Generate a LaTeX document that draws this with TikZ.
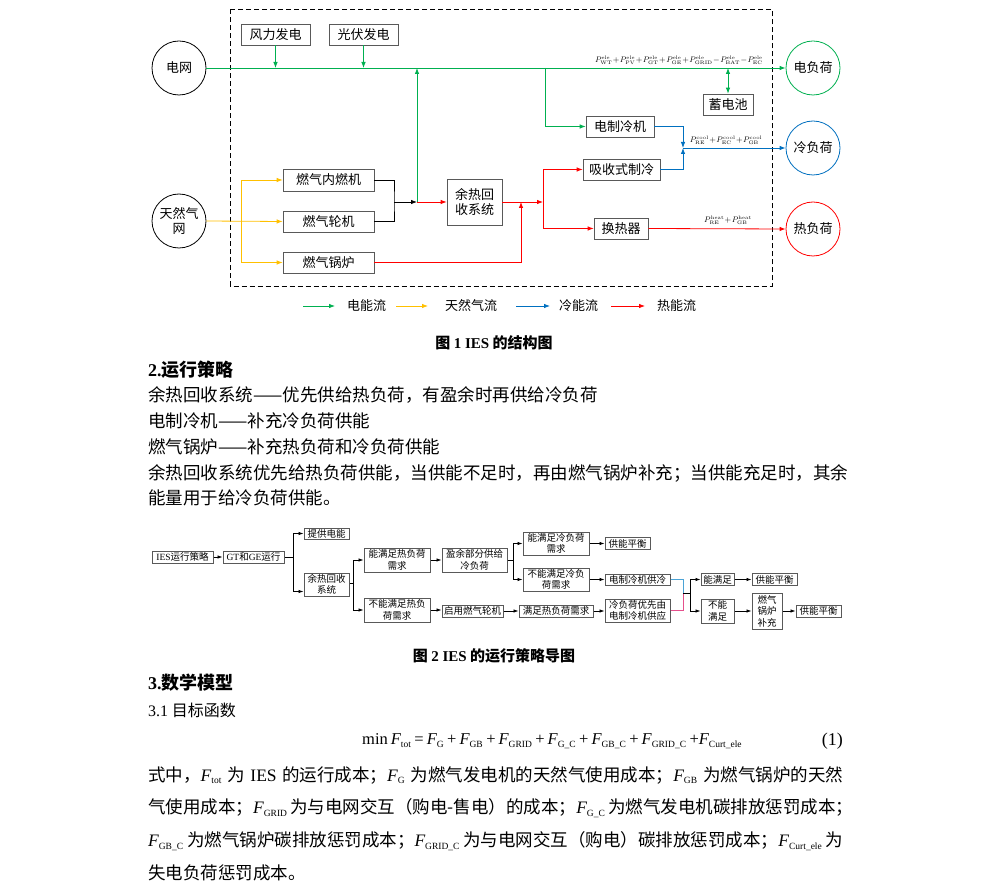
\documentclass[tikz,border=0pt]{standalone}
\usepackage{amsmath}
\usepackage[no-math]{fontspec}
\setmainfont{Noto Sans CJK SC}
\newfontfamily\tnr{Liberation Serif}
\usepackage{tikz}
\usetikzlibrary{positioning,arrows.meta}
\definecolor{elegreen}{HTML}{00B050}
\definecolor{gasyellow}{HTML}{FFC000}
\definecolor{coolblue}{HTML}{0070C0}
\definecolor{heatred}{HTML}{FF0000}
\definecolor{boxgray}{HTML}{595959}
\definecolor{linkblue}{HTML}{4BA3D6}
\definecolor{linkpink}{HTML}{E5508C}
\XeTeXlinebreaklocale "zh"
\XeTeXlinebreakskip=0pt plus 2pt
\newcommand\fdiag{\fontsize{13}{15.5}\selectfont}
\newcommand\fflow{\fontsize{9.5}{11.5}\selectfont}
\newcommand\fbody{\fontsize{17.5}{21}\selectfont}
\newcommand\flab{\fontsize{8.5}{10}\selectfont\medmuskip=1mu}
\newcommand\Pel[1]{P^{\scriptscriptstyle\mathrm{ele}}_{\scriptscriptstyle\mathrm{#1}}}
\newcommand\Pco[1]{P^{\scriptscriptstyle\mathrm{cool}}_{\scriptscriptstyle\mathrm{#1}}}
\newcommand\Pht[1]{P^{\scriptscriptstyle\mathrm{heat}}_{\scriptscriptstyle\mathrm{#1}}}
\newcommand\Ft[1]{{\tnr\itshape F}\textsubscript{\tnr\fontsize{9.5}{9.5}\selectfont #1}}

\begin{document}
\begin{tikzpicture}[x=1pt,y=-1pt,>={Latex[length=6pt,width=4.5pt]},
  blk/.style={draw=boxgray,line width=0.7pt,fill=white,inner sep=0pt,font=\fdiag,align=center},
  ring/.style={circle,draw,line width=0.8pt,minimum size=54pt,inner sep=0pt,font=\fdiag,align=center},
  sblk/.style={draw=boxgray,line width=1pt,fill=white,inner sep=0pt,font=\fflow,align=center},
  flow/.style={->,line width=0.8pt},
  sflow/.style={-{Latex[length=5pt,width=3.5pt]},line width=0.7pt},
  txt/.style={anchor=west,inner sep=0pt,font=\fbody}]
\fill[white] (0,0) rectangle (989,893);
\useasboundingbox (0,0) rectangle (989,893);

% structure of the IES
\draw[dash pattern=on 5pt off 3pt,line width=0.8pt] (230,9.5) rectangle (772,286);
\node[ring] (g1) at (179,68) {电网};
\node[ring] (g2) at (179,221) {天然气\\网};
\node[ring,draw=elegreen] (l1) at (813,68) {电负荷};
\node[ring,draw=coolblue] (l2) at (813,148) {冷负荷};
\node[ring,draw=heatred] (l3) at (813,229) {热负荷};
\node[blk,minimum width=69pt,minimum height=21pt] (wt) at (275.5,34.5) {风力发电};
\node[blk,minimum width=69pt,minimum height=21pt] (pv) at (363.5,34.5) {光伏发电};
\node[blk,minimum width=91pt,minimum height=22pt] (ice) at (328.5,180) {燃气内燃机};
\node[blk,minimum width=91pt,minimum height=21pt] (gt) at (328.5,221.5) {燃气轮机};
\node[blk,minimum width=91pt,minimum height=21pt] (gb) at (328.5,262.5) {燃气锅炉};
\node[blk,minimum width=55pt,minimum height=46pt] (hr) at (474.5,202) {余热回\\收系统};
\node[blk,minimum width=68pt,minimum height=21pt] (ec) at (620,126.5) {电制冷机};
\node[blk,minimum width=77pt,minimum height=21pt] (ac) at (621.5,169.5) {吸收式制冷};
\node[blk,minimum width=54pt,minimum height=21pt] (hx) at (621,228.5) {换热器};
\node[blk,minimum width=50pt,minimum height=21pt] (bat) at (728,104.5) {蓄电池};

\coordinate (jy) at (241,221);
\coordinate (jb) at (394,202);
\coordinate (ju) at (417,202);
\coordinate (jg) at (521,202);
\coordinate (jr) at (543,202);
\coordinate (ja) at (545,68);
\coordinate (jc) at (683,148);

\draw[flow,elegreen] (g1.east) -- (l1.west);
\draw[flow,elegreen] (wt.south) -- (wt.south |- g1.east);
\draw[flow,elegreen] (pv.south) -- (pv.south |- g1.east);
\draw[flow,elegreen] (ju) -- (ju |- g1.east);
\draw[flow,elegreen] (ja) |- (ec.west);
\draw[flow,elegreen,<->] (bat.north) -- (bat.north |- g1.east);
\draw[flow,gasyellow] (g2.east) -- (gt.west);
\draw[flow,gasyellow] (jy) |- (ice.west);
\draw[flow,gasyellow] (jy) |- (gb.west);
\draw[line width=0.8pt] (ice.east) -| (jb) |- (gt.east);
\draw[flow] (jb) -- (ju);
\draw[flow,heatred] (ju) -- (hr.west);
\draw[flow,heatred] (hr.east) -- (jr);
\draw[flow,heatred] (jr) |- (ac.west);
\draw[flow,heatred] (jr) |- (hx.west);
\draw[flow,heatred] (gb.east) -| (jg);
\draw[flow,heatred] (hx.east) -- (l3.west);
\draw[flow,coolblue] (ec.east) -| (jc);
\draw[flow,coolblue] (ac.east) -| (jc);
\draw[flow,coolblue] (jc) -- (l2.west);

\node[font=\flab,anchor=south east,inner sep=1pt] (p1) at (764,66)
  {$\Pel{WT}+\Pel{PV}+\Pel{GT}+\Pel{GE}+\Pel{GRID}-\Pel{BAT}-\Pel{EC}$};
\node[font=\flab,anchor=south,inner sep=1pt] (p2) at (726,146)
  {$\Pco{RE}+\Pco{EC}+\Pco{GB}$};
\node[font=\flab,anchor=south,inner sep=1pt] (p3) at (728,226)
  {$\Pht{RE}+\Pht{GB}$};

% legend
\node[font=\fdiag,anchor=west,inner sep=0pt] (k1) at (347,306) {电能流};
\node[font=\fdiag,anchor=west,inner sep=0pt] (k2) at (445,306) {天然气流};
\node[font=\fdiag,anchor=west,inner sep=0pt] (k3) at (559,306) {冷能流};
\node[font=\fdiag,anchor=west,inner sep=0pt] (k4) at (657,306) {热能流};
\draw[flow,elegreen] ([xshift=-44pt]k1.west) -- ([xshift=-12pt]k1.west);
\draw[flow,gasyellow] ([xshift=-49pt]k2.west) -- ([xshift=-17pt]k2.west);
\draw[flow,coolblue] ([xshift=-43pt]k3.west) -- ([xshift=-9pt]k3.west);
\draw[flow,heatred] ([xshift=-46pt]k4.west) -- ([xshift=-12pt]k4.west);

\node[font=\fontsize{15}{18}\selectfont\bfseries,inner sep=0pt] (c1) at (494,343) {图 {\tnr\bfseries 1 IES} 的结构图};
\node[txt,font=\fontsize{18}{21}\selectfont\bfseries] (h2) at (148,370) {{\tnr\bfseries 2.}运行策略};
\node[txt] (t1) at (148,395) {余热回收系统——优先供给热负荷，有盈余时再供给冷负荷};
\node[txt] (t2) at (148,421) {电制冷机——补充冷负荷供能};
\node[txt] (t3) at (148,447) {燃气锅炉——补充热负荷和冷负荷供能};
\node[txt] (t4) at (148,473) {\hbox to 695pt{余热回收系统优先给热负荷供能，当供能不足时，再由燃气锅炉补充；当供能充足时，其余}};
\node[txt] (t5) at (148,498) {能量用于给冷负荷供能。};

% strategy map
\node[sblk,minimum width=61pt,minimum height=12pt] (s1) at (182.5,557) {{\tnr IES}运行策略};
\node[sblk,minimum width=61pt,minimum height=12pt] (s2) at (253.5,557) {{\tnr GT}和{\tnr GE}运行};
\node[sblk,minimum width=45pt,minimum height=11pt] (s3) at (326.5,533.5) {提供电能};
\node[sblk,minimum width=45pt,minimum height=23pt] (s4) at (326.5,584.5) {余热回收\\系统};
\node[sblk,minimum width=66pt,minimum height=24pt] (s5) at (397,560) {能满足热负荷\\需求};
\node[sblk,minimum width=66pt,minimum height=24pt] (s6) at (397,610) {不能满足热负\\荷需求};
\node[sblk,minimum width=65pt,minimum height=24pt] (s7) at (474.5,560) {盈余部分供给\\冷负荷};
\node[sblk,minimum width=61pt,minimum height=12pt] (s8) at (472.5,611) {启用燃气轮机};
\node[sblk,minimum width=66pt,minimum height=23pt] (s9) at (556,543.5) {能满足冷负荷\\需求};
\node[sblk,minimum width=66pt,minimum height=23pt] (s10) at (556,579.5) {不能满足冷负\\荷需求};
\node[sblk,minimum width=74pt,minimum height=12pt] (s11) at (556,611) {满足热负荷需求};
\node[sblk,minimum width=45pt,minimum height=12pt] (s12) at (627.5,543.5) {供能平衡};
\node[sblk,minimum width=65pt,minimum height=11pt] (s13) at (637.5,579.5) {电制冷机供冷};
\node[sblk,minimum width=65pt,minimum height=23pt] (s14) at (637.5,610.5) {冷负荷优先由\\电制冷机供应};
\node[sblk,minimum width=33pt,minimum height=12pt] (s15) at (717.5,579.5) {能满足};
\node[sblk,minimum width=45pt,minimum height=12pt] (s16) at (774.5,579.5) {供能平衡};
\node[sblk,minimum width=33pt,minimum height=24pt] (s17) at (717.5,611) {不能\\满足};
\node[sblk,minimum width=30pt,minimum height=36pt] (s18) at (767,611) {燃气\\锅炉\\补充};
\node[sblk,minimum width=45pt,minimum height=12pt] (s19) at (818.5,611) {供能平衡};

\coordinate (m1) at (293,557);
\coordinate (m2) at (353,583);
\coordinate (m3) at (513,560);
\coordinate (m4) at (683,593);
\coordinate (m5) at (690,593);
\draw[sflow] (s1) -- (s2);
\draw[line width=0.7pt] (s2.east) -- (m1);
\draw[sflow] (m1) |- (s3.west);
\draw[sflow] (m1) |- ([yshift=-7pt]s4.west);
\draw[line width=0.7pt] (s4.east |- m2) -- (m2);
\draw[sflow] (m2) |- (s5.west);
\draw[sflow] (m2) |- (s6.west);
\draw[sflow] (s5) -- (s7);
\draw[sflow] (s6.east) -- (s6.east -| s8.west);
\draw[line width=0.7pt] (s7.east) -- (m3);
\draw[sflow] (m3) |- (s9.west);
\draw[sflow] (m3) |- (s10.west);
\draw[sflow] (s9) -- (s12);
\draw[sflow] (s10) -- (s13);
\draw[sflow] (s8) -- (s11);
\draw[sflow] (s11.east) -- (s11.east -| s14.west);
\draw[line width=0.7pt,linkblue] (s13.east) -| (m4);
\draw[line width=0.7pt,linkpink] (s14.east) -| (m4);
\draw[line width=0.7pt] (m4) -- (m5);
\draw[sflow] (m5) |- (s15.west);
\draw[sflow] (m5) |- (s17.west);
\draw[sflow] (s15) -- (s16);
\draw[sflow] (s17) -- (s18);
\draw[sflow] (s18) -- (s19);

\node[font=\fontsize{15}{18}\selectfont\bfseries,inner sep=0pt] (c2) at (494,656) {图 {\tnr\bfseries 2 IES} 的运行策略导图};
\node[txt,font=\fontsize{18}{21}\selectfont\bfseries] (h3) at (148,683) {{\tnr\bfseries 3.}数学模型};
\node[txt,font=\fontsize{16}{19}\selectfont] (h31) at (148,710) {{\tnr 3.1} 目标函数};
\node[txt,font=\fontsize{16.5}{20}\selectfont\tnr] (eq) at (362,741)
  {\spaceskip=3pt min \Ft{tot} = \Ft{G} + \Ft{GB} + \Ft{GRID} + \Ft{G\_C} + \Ft{GB\_C} + \Ft{GRID\_C} +\Ft{Curt\_ele}};
\node[anchor=east,inner sep=0pt,font=\fontsize{18}{21}\selectfont\tnr] (eqn) at (843,741) {(1)};
\node[txt] (u1) at (148,775) {\hbox to 695pt{式中，\Ft{tot} 为 {\tnr IES} 的运行成本；\Ft{G} 为燃气发电机的天然气使用成本；\Ft{GB} 为燃气锅炉的天然}};
\node[txt] (u2) at (148,808) {\hbox to 695pt{气使用成本；\Ft{GRID} 为与电网交互（购电-售电）的成本；\Ft{G\_C} 为燃气发电机碳排放惩罚成本；}};
\node[txt] (u3) at (148,841) {\hbox to 695pt{\Ft{GB\_C} 为燃气锅炉碳排放惩罚成本；\Ft{GRID\_C} 为与电网交互（购电）碳排放惩罚成本；\Ft{Curt\_ele} 为}};
\node[txt] (u4) at (148,873) {失电负荷惩罚成本。};
\end{tikzpicture}
\end{document}
